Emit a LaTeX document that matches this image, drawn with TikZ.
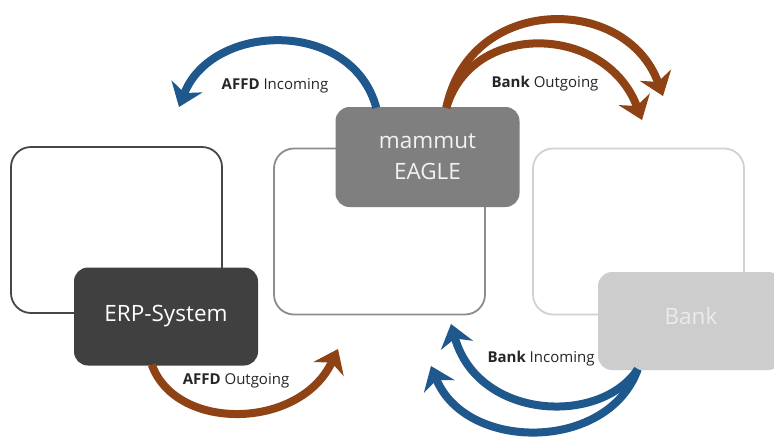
\documentclass[tikz,border=0pt]{standalone}
\usepackage{fontspec}
\setmainfont{Open Sans}
\usetikzlibrary{arrows.meta,calc}
\definecolor{arrblue}{RGB}{31,88,140}
\definecolor{arrbrown}{RGB}{143,66,20}
\definecolor{erpfill}{RGB}{64,64,64}
\definecolor{mamfill}{RGB}{127,127,127}
\definecolor{bankfill}{RGB}{205,205,205}
\begin{document}
\begin{tikzpicture}[x=1pt,y=-1pt,
  outlinebox/.style={draw, line width=1.8pt, rounded corners=20pt, minimum width=211pt, minimum height=166pt, inner sep=0pt},
  labelbox/.style={rounded corners=14pt, minimum width=184pt, minimum height=98pt, inner sep=0pt, text=white, font=\fontsize{22.5}{31}\selectfont, align=center},
  flow/.style={line width=8pt, -{Stealth[length=22pt,width=33pt,inset=7pt]}},
  flowlabel/.style={font=\fontsize{15}{18}\selectfont, text=black!85, inner sep=1pt}
]
\clip (0,0) rectangle (774,437);
\fill[white] (0,0) rectangle (774,437);

% outline boxes
\node[outlinebox, draw=black!72] (erpo) at (116.5,230) {};
\node[outlinebox, draw=black!45] (mamo) at (379.5,231.5) {};
\node[outlinebox, draw=black!18] (banko) at (638.5,231.5) {};

% label boxes
\node[labelbox, fill=erpfill] (erp) at (166,316.5) {ERP-System};
\node[labelbox, fill=mamfill, minimum height=100pt, text=white!95!black] (mam) at (427.5,157) {mammut\\EAGLE};
\node[labelbox, fill=bankfill, text=white!92!black] (bank) at (690,321) {};
\node[font=\fontsize{22.5}{31}\selectfont, text=white!92!black] (banktext) at (691,316) {Bank};

% start points on the boxes
\coordinate (mstartl) at ($(mam.north west)+(41,1)$);
\coordinate (mstartr) at ($(mam.north west)+(111,1)$);
\coordinate (estart) at ($(erp.south west)+(78,-1)$);
\coordinate (bstart) at ($(bank.south west)+(40,-1)$);
% free ends
\coordinate (afin) at (179,107);
\coordinate (boout) at (663,96);
\coordinate (boin) at (642,120);
\coordinate (afout) at (338,349);
\coordinate (biin) at (451,324);
\coordinate (biout) at (431,366);

% arrows
\draw[flow, draw=arrblue] (mstartl) .. controls (352,18) and (212,22) .. (afin);
\draw[flow, draw=arrbrown] (mstartr) .. controls (470,-6) and (626,-6) .. (boout);
\draw[flow, draw=arrbrown] (mstartr) .. controls (472,20) and (606,24) .. (boin);
\draw[flow, draw=arrbrown] (estart) .. controls (176,432) and (300,430) .. (afout);
\draw[flow, draw=arrblue] (bstart) .. controls (600,426) and (478,420) .. (biin);
\draw[flow, draw=arrblue] (bstart) .. controls (608,452) and (466,452) .. (biout);

% labels
\node[flowlabel] (l1) at (275,86) {\textbf{AFFD} Incoming};
\node[flowlabel] (l2) at (545,84) {\textbf{Bank} Outgoing};
\node[flowlabel] (l3) at (236,381) {\textbf{AFFD} Outgoing};
\node[flowlabel] (l4) at (541,359) {\textbf{Bank} Incoming};
\end{tikzpicture}
\end{document}
